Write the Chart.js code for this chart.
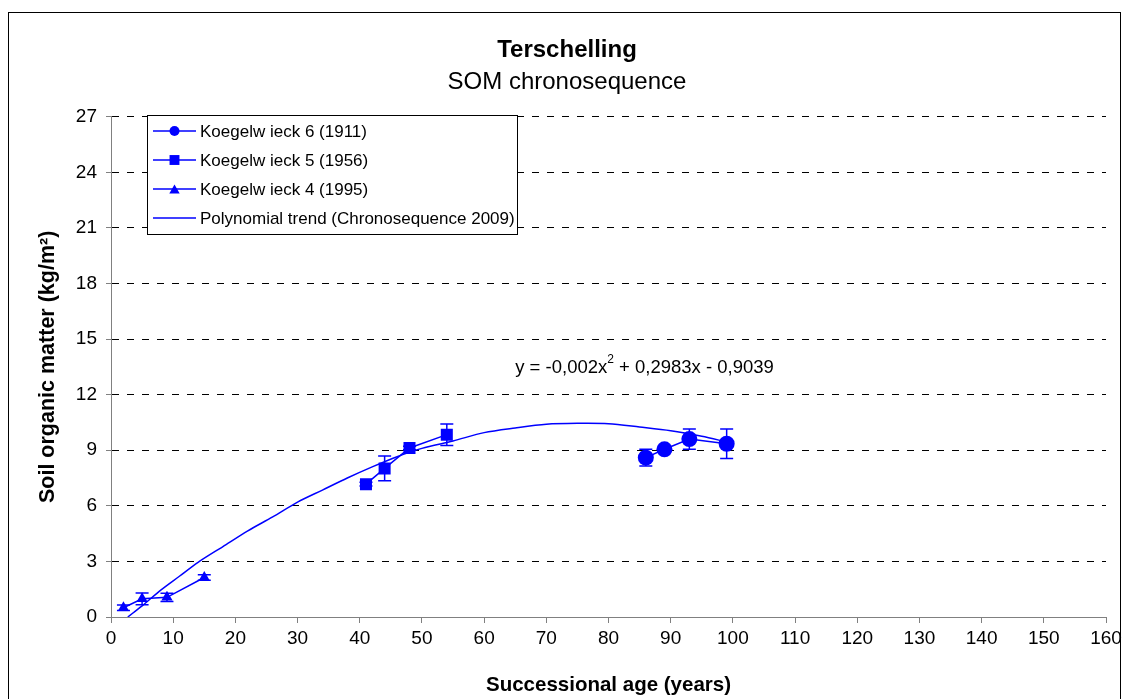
<!DOCTYPE html>
<html><head><meta charset="utf-8">
<script src="https://cdn.jsdelivr.net/npm/chart.js@4.4.1/dist/chart.umd.min.js"></script>
<style>html,body{margin:0;padding:0;background:#fff;}#wrap{width:1126px;height:699px;position:relative;}</style>
</head><body><div id="wrap"><canvas id="c" width="1126" height="699"></canvas></div>
<script>
// ---- data ----
const xTickValues = [0,10,20,30,40,50,60,70,80,90,100,110,120,130,140,150,160];
const yTickValues = [0,3,6,9,12,15,18,21,24,27];

const k6Age = [86, 89, 93, 99];
const k6Som = [8.6, 9.05, 9.6, 9.35];
const k6Err = [0.45, 0.15, 0.55, 0.8];

const k5Age = [41, 44, 48, 54];
const k5Som = [7.17, 8.02, 9.12, 9.84];
const k5Err = [0.1, 0.67, 0.1, 0.58];

const k4Age = [2, 5, 9, 15];
const k4Som = [0.5, 0.98, 1.06, 2.13];
const k4Err = [0.15, 0.32, 0.22, 0.15];

const trendAge = [2.7, 5, 8, 11, 14, 18, 22, 26, 30, 34, 38, 42, 46, 50, 55, 60, 65, 70, 75, 80, 85, 90, 95, 99];
const trendSom = [0, 0.6, 1.45, 2.2, 2.95, 3.8, 4.65, 5.4, 6.2, 6.85, 7.5, 8.1, 8.65, 9.1, 9.5, 9.95, 10.2, 10.4, 10.45, 10.43, 10.25, 10.05, 9.75, 9.45];

const seriesLabels = ['Koegelw ieck 6 (1911)', 'Koegelw ieck 5 (1956)', 'Koegelw ieck 4 (1995)', 'Polynomial trend (Chronosequence 2009)'];
const equationParts = ['y = -0,002x', '2', ' + 0,2983x - 0,9039'];
const equationPos = [65, 13.45];

const FONT = '"Liberation Sans", Arial, sans-serif';
const BLUE = '#0000FF';
const pts = (xs, ys) => xs.map((x, i) => ({x: x, y: ys[i]}));

// ---- plugins ----
const frame = {
  id: 'frame',
  afterDraw(chart) {
    const ctx = chart.ctx;
    ctx.save();
    ctx.strokeStyle = '#000';
    ctx.lineWidth = 1;
    ctx.strokeRect(8.5, 12.5, 1112, 700);
    ctx.restore();
  }
};

const errorBars = {
  id: 'errorBars',
  afterDatasetsDraw(chart) {
    const ctx = chart.ctx;
    const xs = chart.scales.x, ys = chart.scales.y;
    ctx.save();
    chart.data.datasets.forEach((ds) => {
      if (!ds.errors) return;
      ctx.strokeStyle = ds.borderColor;
      ctx.lineWidth = 1.5;
      ds.data.forEach((p, i) => {
        const e = ds.errors[i];
        const px = xs.getPixelForValue(p.x);
        const yt = ys.getPixelForValue(p.y + e);
        const yb = ys.getPixelForValue(p.y - e);
        ctx.beginPath();
        ctx.moveTo(px, yt); ctx.lineTo(px, yb);
        ctx.moveTo(px - 6.5, yt); ctx.lineTo(px + 6.5, yt);
        ctx.moveTo(px - 6.5, yb); ctx.lineTo(px + 6.5, yb);
        ctx.stroke();
      });
    });
    ctx.restore();
  }
};

const equation = {
  id: 'equation',
  afterDraw(chart) {
    const ctx = chart.ctx;
    const x = chart.scales.x.getPixelForValue(equationPos[0]);
    const y = chart.scales.y.getPixelForValue(equationPos[1]);
    ctx.save();
    ctx.fillStyle = '#000';
    ctx.textBaseline = 'middle';
    ctx.font = '18.5px ' + FONT;
    ctx.fillText(equationParts[0], x, y);
    let w = ctx.measureText(equationParts[0]).width;
    ctx.font = '12px ' + FONT;
    ctx.fillText(equationParts[1], x + w, y - 8);
    w += ctx.measureText(equationParts[1]).width;
    ctx.font = '18.5px ' + FONT;
    ctx.fillText(equationParts[2], x + w, y);
    ctx.restore();
  }
};

const boxLegend = {
  id: 'boxLegend',
  afterDraw(chart) {
    const ctx = chart.ctx;
    const bx = 147, by = 115, bw = 370, bh = 119;
    ctx.save();
    ctx.fillStyle = '#fff';
    ctx.fillRect(bx, by, bw, bh);
    ctx.strokeStyle = '#000';
    ctx.lineWidth = 1;
    ctx.strokeRect(bx + 0.5, by + 0.5, bw, bh);
    const rows = [131, 160, 189, 218];
    const legendRadius = {circle: 5, rect: 7, triangle: 6};
    chart.data.datasets.forEach((ds, i) => {
      const y = rows[i];
      ctx.strokeStyle = ds.borderColor;
      ctx.lineWidth = 1.5;
      ctx.beginPath();
      ctx.moveTo(153, y); ctx.lineTo(196, y);
      ctx.stroke();
      if (ds.pointRadius > 0) {
        ctx.fillStyle = ds.backgroundColor;
        Chart.helpers.drawPoint(ctx, {pointStyle: ds.pointStyle, radius: legendRadius[ds.pointStyle], borderWidth: 0, rotation: 0}, 174.5, ds.pointStyle === 'triangle' ? y + 1.5 : y);
      }
      ctx.fillStyle = '#000';
      ctx.font = '17px ' + FONT;
      ctx.textBaseline = 'middle';
      ctx.fillText(ds.label, 200, y + 1.5);
    });
    ctx.restore();
  }
};

const seriesStyle = (label, data, style, r, err) => ({
  label: label, data: data, errors: err, showLine: true,
  borderColor: BLUE, backgroundColor: BLUE, borderWidth: 1.5,
  pointStyle: style, pointRadius: r, pointHoverRadius: r, pointBorderWidth: 0,
  pointBackgroundColor: BLUE, pointBorderColor: BLUE
});

new Chart(document.getElementById('c'), {
  type: 'scatter',
  data: {
    datasets: [
      seriesStyle(seriesLabels[0], pts(k6Age, k6Som), 'circle', 8, k6Err),
      seriesStyle(seriesLabels[1], pts(k5Age, k5Som), 'rect', 8.5, k5Err),
      seriesStyle(seriesLabels[2], pts(k4Age, k4Som), 'triangle', 6.5, k4Err),
      {label: seriesLabels[3], data: pts(trendAge, trendSom), showLine: true,
       borderColor: BLUE, backgroundColor: BLUE, borderWidth: 1.5, pointRadius: 0, pointHoverRadius: 0, tension: 0.3}
    ]
  },
  options: {
    responsive: false, animation: false, devicePixelRatio: 1,
    layout: {padding: {top: 35.6, left: 28, right: 20, bottom: 0}},
    plugins: {
      legend: {display: false},
      tooltip: {enabled: false},
      title: {display: true, text: 'Terschelling', color: '#000',
        font: {family: FONT, size: 24, weight: 'bold', lineHeight: 1.2}, padding: {top: 0, bottom: 3.2}},
      subtitle: {display: true, text: 'SOM chronosequence', color: '#000',
        font: {family: FONT, size: 24, weight: 'normal', lineHeight: 1.2}, padding: {top: 0, bottom: 20.3}}
    },
    scales: {
      x: {
        type: 'linear', min: 0, max: 160,
        afterBuildTicks: (s) => { s.ticks = xTickValues.map(v => ({value: v})); },
        afterFit: (s) => { s.height = 82; },
        grid: {drawOnChartArea: false, drawTicks: true, tickLength: 6, tickColor: '#808080', tickWidth: 1, tickBorderDash: []},
        border: {display: true, color: '#808080', width: 1},
        ticks: {color: '#000', font: {family: FONT, size: 19}, padding: 4, maxRotation: 0, autoSkip: false},
        title: {display: true, text: 'Successional age (years)', color: '#000',
          font: {family: FONT, size: 20.5, weight: 'bold', lineHeight: 1.2}, padding: {top: 0, bottom: 1.5}}
      },
      y: {
        type: 'linear', min: 0, max: 27,
        afterBuildTicks: (s) => { s.ticks = yTickValues.map(v => ({value: v})); },
        afterFit: (s) => { s.width = 83; },
        grid: {drawOnChartArea: true, drawTicks: true, tickLength: 5, tickColor: '#808080', tickWidth: 1, tickBorderDash: [],
          color: (c) => (c.tick && c.tick.value === 0) ? 'rgba(0,0,0,0)' : '#000', lineWidth: 1, borderDash: [7, 8]},
        border: {display: true, color: '#808080', width: 1, dash: [7, 8]},
        ticks: {color: '#000', font: {family: FONT, size: 19}, padding: 9, autoSkip: false},
        title: {display: true, text: 'Soil organic matter (kg/m²)', color: '#000',
          font: {family: FONT, size: 21.5, weight: 'bold', lineHeight: 1.2}, padding: {top: 7, bottom: 0}}
      }
    }
  },
  plugins: [errorBars, equation, boxLegend, frame]
});
</script></body></html>
